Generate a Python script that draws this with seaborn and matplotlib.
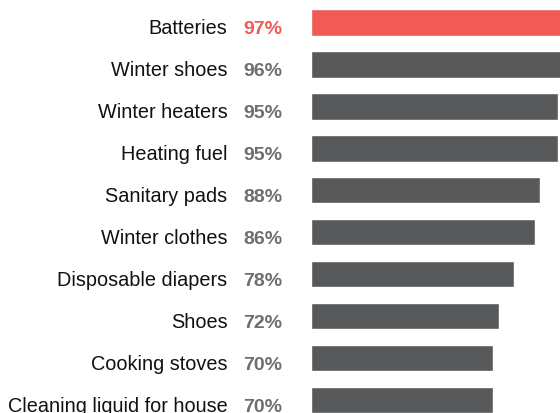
import matplotlib
matplotlib.use("Agg")
import matplotlib.pyplot as plt
import matplotlib.transforms as mtransforms
import seaborn as sns
import pandas as pd

categories = ["Batteries", "Winter shoes", "Winter heaters", "Heating fuel",
              "Sanitary pads", "Winter clothes", "Disposable diapers", "Shoes",
              "Cooking stoves", "Cleaning liquid for house"]
values = [97, 96, 95, 95, 88, 86, 78, 72, 70, 70]
labels = ["97%", "96%", "95%", "95%", "88%", "86%", "78%", "72%", "70%", "70%"]

RED = "#F05B56"
GREY = "#58595B"
TXT_GREY = "#6D6E71"

sns.set_theme(style="white")
plt.rcParams["font.family"] = ["Liberation Sans", "DejaVu Sans"]

df = pd.DataFrame({"cat": categories, "val": values})
palette = {c: (RED if i == 0 else GREY) for i, c in enumerate(categories)}

fig = plt.figure(figsize=(5.6, 4.14), dpi=100)
ax = fig.add_axes([311 / 560, 0, 249 / 560, 1])
sns.barplot(data=df, x="val", y="cat", hue="cat", palette=palette, order=categories,
            orient="h", width=0.635, legend=False, saturation=1, ax=ax)

ax.set_xlim(0, 95.6)
ax.set_ylim(9.31, -0.555)
ax.set_xlabel("")
ax.set_ylabel("")
ax.set_xticks([])
ax.set_yticks([])
for s in ax.spines.values():
    s.set_visible(False)

trans = mtransforms.blended_transform_factory(ax.transAxes, ax.transData)
k = 72 / 100
for i, (c, lab) in enumerate(zip(categories, labels)):
    ax.annotate(c, xy=(0, i), xycoords=trans, xytext=(-83.5 * k, -10.8 * k),
                textcoords="offset points", ha="right", va="baseline",
                fontsize=14.3, color="#111111", annotation_clip=False)
    ax.annotate(lab, xy=(0, i), xycoords=trans, xytext=(-29 * k, -10.8 * k),
                textcoords="offset points", ha="right", va="baseline",
                fontsize=14, fontweight="bold",
                color=(RED if i == 0 else TXT_GREY), annotation_clip=False)

fig.savefig("out.png", dpi=100)
